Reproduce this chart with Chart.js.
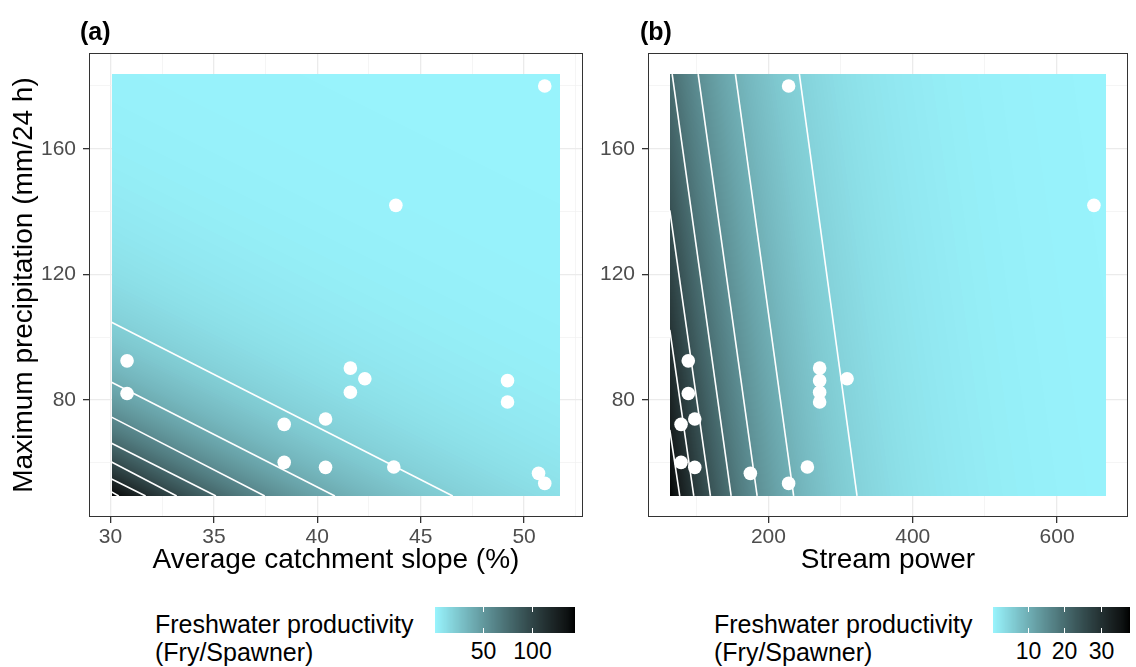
<!DOCTYPE html>
<html lang="en">
<head>
<meta charset="UTF-8">
<title>Freshwater productivity</title>
<style>
  body {
    margin: 0;
    width: 1136px;
    height: 667px;
    position: relative;
    overflow: hidden;
    background: #fff;
    font-family: "Liberation Sans", Arial, sans-serif;
  }
  .panel { position: absolute; top: 0; height: 600px; }
  .tag { position: absolute; top: 17px; font-weight: bold; font-size: 25px; color: #000; }
  .legend-title { position: absolute; top: 610px; font-size: 25px; line-height: 28px; color: #000; }
  .bar { position: absolute; top: 607px; }
  .bar-label { position: absolute; top: 638px; font-size: 23px; color: #000; transform: translateX(-50%); }
</style>
</head>
<body>

<div class="panel" style="left:0; width:590px;"><canvas id="chartA"></canvas></div>
<div class="panel" style="left:560px; width:576px;"><canvas id="chartB"></canvas></div>

<div class="tag" style="left:80px;">(a)</div>
<div class="tag" style="left:640px;">(b)</div>

<div class="legend-title" style="left:155px;">Freshwater productivity<br>(Fry/Spawner)</div>
<div class="legend-title" style="left:714px;">Freshwater productivity<br>(Fry/Spawner)</div>
<canvas id="barA" class="bar" width="140" height="26" style="left:435px;"></canvas>
<canvas id="barB" class="bar" width="137" height="26" style="left:993px;"></canvas>
<div id="labelsA"></div>
<div id="labelsB"></div>

<script src="https://cdn.jsdelivr.net/npm/chart.js"></script>
<script>
    // observed sites
    const precipitation = [92.5, 82.1, 72.3, 60.2, 74.0, 58.6, 90.2, 82.5, 86.8, 58.7, 86.2, 79.4, 56.7, 53.5, 180.0, 142.0];
    const catchmentSlope = [30.8, 30.8, 38.4, 38.4, 40.4, 40.4, 41.6, 41.6, 42.3, 43.7, 49.2, 49.2, 50.7, 51.0, 51.0, 43.8];
    const streamPower = [89, 89, 79, 79, 98, 98, 271, 271, 309, 254, 271, 271, 175, 228, 228, 651];

    // fitted surfaces: log(P) = b0 + b1 * x + b2 * precipitation
    const slopeModel = [10.384, -0.12, -0.0364];
    const powerModel = [4.38, -0.00792, -0.00476];

    // prediction grid extent
    const slopeGrid = [30.05, 51.76];
    const powerGrid = [63.4, 668];
    const precipGrid = [49.5, 183.8];

    // axis ranges
    const slopeAxis = [28.96, 52.85];
    const powerAxis = [33.2, 698.2];
    const precipAxis = [42.8, 190.5];

    // tick labels
    const slopeTicks = [30, 32.5, 35, 37.5, 40, 42.5, 45, 47.5, 50, 52.5];
    const slopeMajor = [30, 35, 40, 45, 50];
    const powerTicks = [100, 200, 300, 400, 500, 600];
    const powerMajor = [200, 400, 600];
    const precipTicks = [60, 80, 100, 120, 140, 160, 180];
    const precipMajor = [80, 120, 160];
    const legendTicksA = [50, 100];
    const legendTicksB = [10, 20, 30];

    // contour lines (a): from the left edge down to the bottom edge
    const contourA_x1 = [30.05, 30.05, 30.05, 30.05, 30.05, 30.05, 30.05];
    const contourA_y1 = [104.8, 85.7, 74.6, 66.3, 60.3, 54.9, 50.8];
    const contourA_x2 = [46.55, 40.85, 37.46, 35.1, 33.2, 31.7, 30.4];
    const contourA_y2 = [49.5, 49.5, 49.5, 49.5, 49.5, 49.5, 49.5];

    // contour lines (b)
    const contourB_x1 = [242.9, 154.3, 102.7, 66.7, 63.4, 63.4, 63.4];
    const contourB_y1 = [183.8, 183.8, 183.8, 183.8, 140.4, 102.4, 70.5];
    const contourB_x2 = [322.8, 235, 184.4, 148.4, 119.7, 96.6, 77.2];
    const contourB_y2 = [49.5, 49.5, 49.5, 49.5, 49.5, 49.5, 49.5];

    const lowColour = [152, 243, 252];

    Chart.defaults.font.family = '"Liberation Sans", Arial, sans-serif';

    // colour ramp interpolated in CIELAB, like ggplot
    function toLin(c) { c /= 255; return c <= 0.04045 ? c / 12.92 : Math.pow((c + 0.055) / 1.055, 2.4); }
    function fromLin(c) {
        const v = c <= 0.0031308 ? 12.92 * c : 1.055 * Math.pow(Math.max(c, 0), 1 / 2.4) - 0.055;
        return Math.round(Math.max(0, Math.min(1, v)) * 255);
    }
    function rgbToLab(rgb) {
        const R = toLin(rgb[0]), G = toLin(rgb[1]), B = toLin(rgb[2]);
        const X = (0.4124 * R + 0.3576 * G + 0.1805 * B) / 0.95047;
        const Y = 0.2126 * R + 0.7152 * G + 0.0722 * B;
        const Z = (0.0193 * R + 0.1192 * G + 0.9505 * B) / 1.08883;
        const f = t => t > 0.008856 ? Math.cbrt(t) : 7.787 * t + 16 / 116;
        return [116 * f(Y) - 16, 500 * (f(X) - f(Y)), 200 * (f(Y) - f(Z))];
    }
    function labToRgb(L, a, b) {
        const fy = (L + 16) / 116, fx = fy + a / 500, fz = fy - b / 200;
        const inv = t => t * t * t > 0.008856 ? t * t * t : (t - 16 / 116) / 7.787;
        const X = inv(fx) * 0.95047, Y = inv(fy), Z = inv(fz) * 1.08883;
        return [
            fromLin(3.2406 * X - 1.5372 * Y - 0.4986 * Z),
            fromLin(-0.9689 * X + 1.8758 * Y + 0.0415 * Z),
            fromLin(0.0557 * X - 0.2040 * Y + 1.0570 * Z)
        ];
    }
    const lowLab = rgbToLab(lowColour);
    const lut = [];
    for (let i = 0; i < 256; i++) {
        const k = 1 - i / 255;
        lut.push(labToRgb(lowLab[0] * k, lowLab[1] * k, lowLab[2] * k));
    }
    function colourAt(t) {
        return lut[Math.max(0, Math.min(255, Math.round(t * 255)))];
    }

    function range(model, xr) {
        return {
            lo: Math.exp(model[0] + model[1] * xr[1] + model[2] * precipGrid[1]),
            hi: Math.exp(model[0] + model[1] * xr[0] + model[2] * precipGrid[0])
        };
    }

    const rasterPlugin = {
        id: 'raster',
        beforeDatasetsDraw(chart, args, opts) {
            const xs = chart.scales.x, ys = chart.scales.y, m = opts.model;
            const px0 = Math.round(xs.getPixelForValue(opts.xr[0]));
            const px1 = Math.round(xs.getPixelForValue(opts.xr[1]));
            const py0 = Math.round(ys.getPixelForValue(precipGrid[1]));
            const py1 = Math.round(ys.getPixelForValue(precipGrid[0]));
            const w = px1 - px0, h = py1 - py0;
            const off = document.createElement('canvas');
            off.width = w; off.height = h;
            const octx = off.getContext('2d');
            const img = octx.createImageData(w, h);
            const r = range(m, opts.xr);
            for (let j = 0; j < h; j++) {
                const yv = ys.getValueForPixel(py0 + j + 0.5);
                for (let i = 0; i < w; i++) {
                    const xv = xs.getValueForPixel(px0 + i + 0.5);
                    const v = Math.exp(m[0] + m[1] * xv + m[2] * yv);
                    const c = colourAt((v - r.lo) / (r.hi - r.lo));
                    const p = (j * w + i) * 4;
                    img.data[p] = c[0]; img.data[p + 1] = c[1]; img.data[p + 2] = c[2]; img.data[p + 3] = 255;
                }
            }
            octx.putImageData(img, 0, 0);
            chart.ctx.drawImage(off, px0, py0);
        }
    };

    const framePlugin = {
        id: 'frame',
        afterDraw(chart) {
            const a = chart.chartArea, ctx = chart.ctx;
            ctx.save();
            ctx.strokeStyle = '#333333';
            ctx.lineWidth = 1;
            ctx.strokeRect(a.left + 0.5, a.top + 0.5, a.right - a.left - 1, a.bottom - a.top - 1);
            ctx.restore();
        }
    };

    function axis(lims, ticks, majors, title, fitSize, horizontal) {
        const isMajor = c => c.tick && majors.includes(c.tick.value);
        return {
            type: 'linear',
            min: lims[0],
            max: lims[1],
            afterFit: s => { if (horizontal) s.height = fitSize; else s.width = fitSize; },
            afterBuildTicks: s => { s.ticks = ticks.map(v => ({ value: v })); },
            ticks: {
                autoSkip: false,
                maxRotation: 0,
                padding: horizontal ? 2 : 7,
                color: '#4d4d4d',
                font: { size: 21 },
                callback: v => majors.includes(v) ? String(v) : ''
            },
            grid: {
                color: c => isMajor(c) ? '#ebebeb' : '#f3f3f3',
                lineWidth: c => isMajor(c) ? 1.3 : 0.8,
                tickLength: 6,
                tickColor: c => isMajor(c) ? '#333333' : 'rgba(0,0,0,0)',
                tickWidth: 1.3
            },
            border: { display: false },
            title: {
                display: !!title,
                text: title,
                color: '#000',
                font: { size: 28 },
                padding: horizontal ? { top: 0, bottom: 2 } : { top: 7, bottom: 0 }
            }
        };
    }

    function contourSets(x1, y1, x2, y2) {
        return x1.map((x, i) => ({
            type: 'line',
            data: [{ x: x, y: y1[i] }, { x: x2[i], y: y2[i] }],
            borderColor: '#ffffff',
            borderWidth: 1.6,
            pointRadius: 0,
            fill: false
        }));
    }

    function points(xv) {
        return {
            type: 'scatter',
            data: xv.map((x, i) => ({ x: x, y: precipitation[i] })),
            backgroundColor: '#ffffff',
            borderColor: '#ffffff',
            borderWidth: 0,
            pointRadius: 6.8
        };
    }

    function makeChart(id, cfg) {
        return new Chart(document.getElementById(id), {
            type: 'scatter',
            data: { datasets: contourSets(cfg.cx1, cfg.cy1, cfg.cx2, cfg.cy2).concat([points(cfg.xv)]) },
            options: {
                responsive: false,
                animation: false,
                events: [],
                layout: { padding: cfg.padding },
                plugins: {
                    legend: { display: false },
                    tooltip: { enabled: false },
                    raster: { model: cfg.model, xr: cfg.grid }
                },
                scales: {
                    x: axis(cfg.xAxis, cfg.xTicks, cfg.xMajor, cfg.xTitle, 62, true),
                    y: axis(precipAxis, precipTicks, precipMajor, cfg.yTitle, cfg.yWidth, false)
                }
            },
            plugins: [rasterPlugin, framePlugin]
        });
    }

    const cA = document.getElementById('chartA');
    cA.width = 590; cA.height = 600;
    const cB = document.getElementById('chartB');
    cB.width = 576; cB.height = 600;

    makeChart('chartA', {
        model: slopeModel, grid: slopeGrid, xv: catchmentSlope,
        cx1: contourA_x1, cy1: contourA_y1, cx2: contourA_x2, cy2: contourA_y2,
        xAxis: slopeAxis, xTicks: slopeTicks, xMajor: slopeMajor,
        xTitle: 'Average catchment slope (%)', yTitle: 'Maximum precipitation (mm/24 h)',
        yWidth: 89, padding: { top: 53, right: 7, bottom: 21, left: 0 }
    });
    makeChart('chartB', {
        model: powerModel, grid: powerGrid, xv: streamPower,
        cx1: contourB_x1, cy1: contourB_y1, cx2: contourB_x2, cy2: contourB_y2,
        xAxis: powerAxis, xTicks: powerTicks, xMajor: powerMajor,
        xTitle: 'Stream power', yTitle: '',
        yWidth: 88, padding: { top: 53, right: 8, bottom: 21, left: 0 }
    });

    // colour bars
    function drawBar(id, labelsId, model, grid, ticks, left) {
        const c = document.getElementById(id), ctx = c.getContext('2d');
        const w = c.width, h = c.height, r = range(model, grid);
        for (let i = 0; i < w; i++) {
            const col = colourAt(i / (w - 1));
            ctx.fillStyle = 'rgb(' + col.join(',') + ')';
            ctx.fillRect(i, 0, 1, h);
        }
        ctx.strokeStyle = '#ffffff';
        ctx.lineWidth = 1;
        const holder = document.getElementById(labelsId);
        ticks.forEach(v => {
            const x = Math.round((v - r.lo) / (r.hi - r.lo) * w) + 0.5;
            ctx.beginPath();
            ctx.moveTo(x, 0); ctx.lineTo(x, 5);
            ctx.moveTo(x, h - 5); ctx.lineTo(x, h);
            ctx.stroke();
            const d = document.createElement('div');
            d.className = 'bar-label';
            d.style.left = (left + x) + 'px';
            d.textContent = v;
            holder.appendChild(d);
        });
    }
    drawBar('barA', 'labelsA', slopeModel, slopeGrid, legendTicksA, 435);
    drawBar('barB', 'labelsB', powerModel, powerGrid, legendTicksB, 993);
</script>

</body>
</html>
